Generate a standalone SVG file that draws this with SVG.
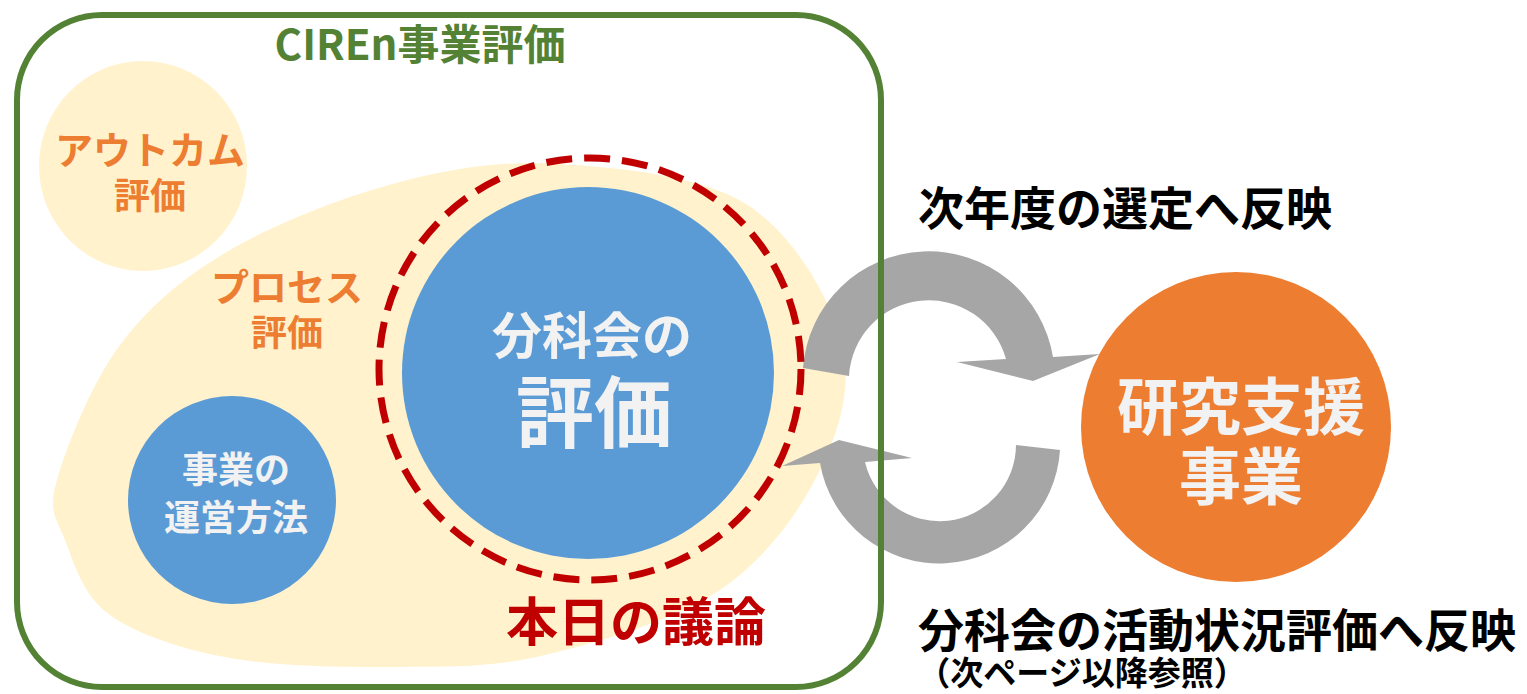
<svg xmlns="http://www.w3.org/2000/svg" width="1527" height="694" viewBox="0 0 1527 694">
<style>
text{font-family:"Noto Sans CJK JP","Noto Sans",sans-serif;font-weight:700;text-anchor:middle}
.light{fill:#F2F2F2}
.org{fill:#ED7D31}
.blk{fill:#000}
.yel{fill:#FFF2CC}
.blue{fill:#5B9BD5}
.arrow{fill:#A6A6A6}
</style>
<rect width="1527" height="694" fill="#fff"/>
<g id="outcome">
<ellipse class="yel" cx="143" cy="166" rx="104" ry="105"/>
</g>
<g id="process">
<path class="yel" d="M57,480 C66.2,447.5 91.2,383.3 120,345 C148.8,306.7 183.3,277.2 230,250 C276.7,222.8 345,196.3 400,182 C455,167.7 502.3,160.3 560,164 C617.7,167.7 699.2,174.7 746,204 C792.8,233.3 828.7,295.7 841,340 C853.3,384.3 840.2,428.3 820,470 C799.8,511.7 765.8,559.2 720,590 C674.2,620.8 598.3,642.2 545,655 C491.7,667.8 452.5,666.5 400,667 C347.5,667.5 278.3,666.7 230,658 C181.7,649.3 137.5,634.7 110,615 C82.5,595.3 73.8,562.5 65,540 C56.2,517.5 47.8,512.5 57,480 Z"/>
</g>
<g id="connectors">
<path class="arrow" d="M803,368 A126,126 0 0 1 1053,357 L1100,354 L1033,381 L957,362 L1006,359 A80,80 0 0 0 849,376 Z"/>
<path class="arrow" d="M782,466 L839,440 L912,458 L865,462 A76.5,76.5 0 0 0 1016,445 L1060,450 A121,121 0 0 1 820,463 Z"/>
</g>
<g id="ciren">
<rect x="17" y="15" width="864" height="672" rx="85" ry="85" fill="none" stroke="#548235" stroke-width="6"/>
<text x="420" y="60" font-size="42" fill="#548235">CIREn事業評価</text>
</g>
<g id="outcome-label">
<text class="org" x="150" y="164" font-size="38">アウトカム</text>
<text class="org" x="150" y="209" font-size="36">評価</text>
</g>
<g id="process-label">
<text class="org" x="287" y="301" font-size="38">プロセス</text>
<text class="org" x="287" y="346" font-size="36">評価</text>
</g>
<g id="today">
<circle cx="590" cy="369" r="211" fill="none" stroke="#C00000" stroke-width="7" stroke-dasharray="26 12"/>
<text x="636" y="641" font-size="52" fill="#C00000">本日の議論</text>
</g>
<g id="bunkakai">
<circle class="blue" cx="588" cy="373" r="186"/>
<text class="light" x="592" y="354" font-size="50">分科会の</text>
<text class="light" x="594" y="442" font-size="78">評価</text>
</g>
<g id="unei">
<circle class="blue" cx="232" cy="500" r="104"/>
<text class="light" x="236" y="483" font-size="36">事業の</text>
<text class="light" x="236" y="531" font-size="36">運営方法</text>
</g>
<g id="kenkyu">
<circle cx="1236" cy="427" r="155" fill="#ED7D31"/>
<text class="light" x="1241" y="430" font-size="62">研究支援</text>
<text class="light" x="1241" y="500" font-size="62">事業</text>
</g>
<g id="labels">
<text class="blk" x="1125" y="225" font-size="46">次年度の選定へ反映</text>
<text class="blk" x="1217" y="647" font-size="46">分科会の活動状況評価へ反映</text>
<text class="blk" x="1082" y="685" font-size="33">（次ページ以降参照）</text>
</g>
</svg>
